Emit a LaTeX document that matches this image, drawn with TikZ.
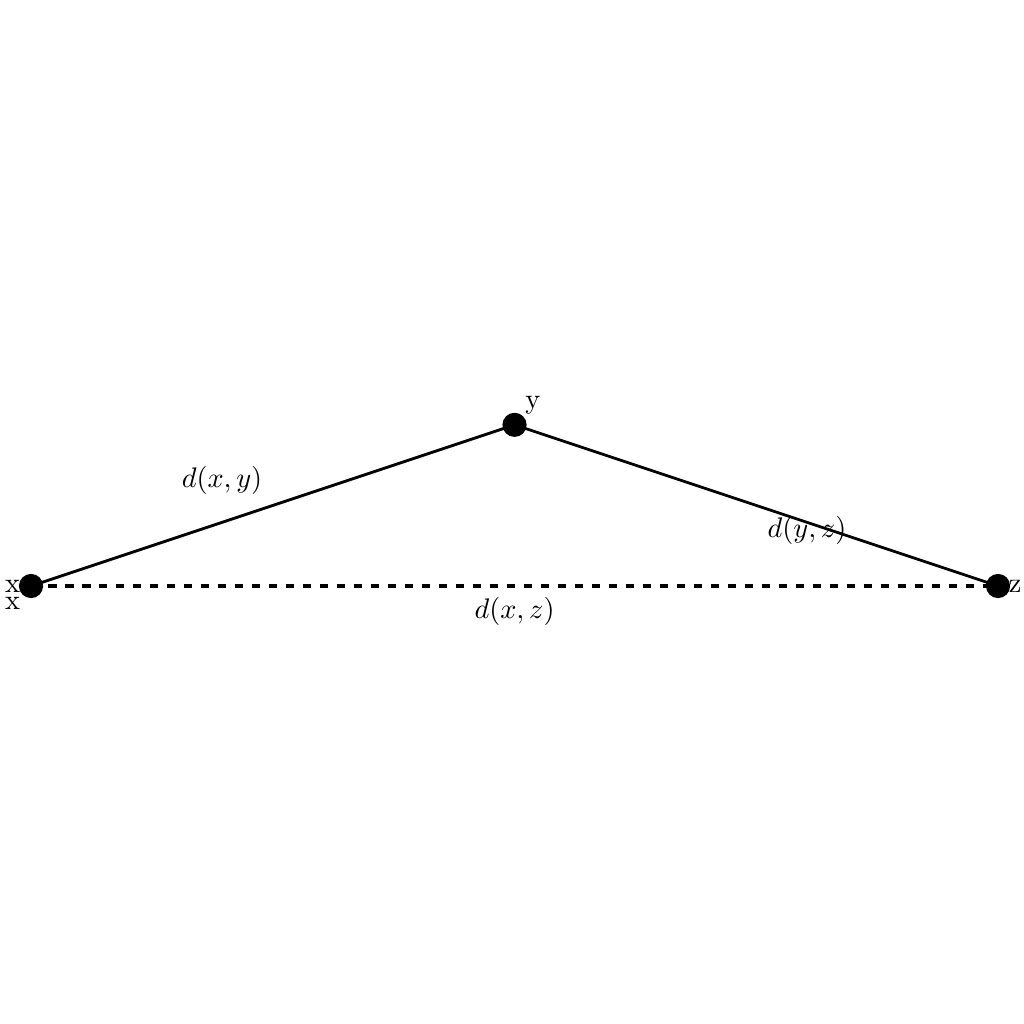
\documentclass[tikz,border=0pt]{standalone}
\begin{document}
\begin{tikzpicture}[line width=1pt, dot/.style = {shape=circle, fill, inner sep=0pt, minimum size=0.3cm},
                    ptlabel/.style = {inner sep=3.33pt}]
            \useasboundingbox (-0.385,-5.435) rectangle (12.32,7.272);
            \node[dot] (x) at (0,0) {};
            \node[dot] (y) at (6,2) {};
            \node[dot] (z) at (12,0) {};
            \node[ptlabel, left] (xl) at (x.center) {x};
            \node[ptlabel, below left] (xll) at (x.center) {x};
            \node[ptlabel, above right] (yl) at (y.center) {y};
            \node[ptlabel, right] (zl) at (z.center) {z};
            \draw (x.center) -- node[pos=0.395, above=0.21cm] (dxy) {$d(x,y)$} (y.center);
            \draw (y.center) -- node[pos=0.605, yshift=-0.1cm] (dyz) {$d(y,z)$} (z.center);
            \draw[dashed, line width=1.2pt] (x.center) -- node[below] (dxz) {$d(x,z)$} (z.center);
        \end{tikzpicture}
\end{document}
